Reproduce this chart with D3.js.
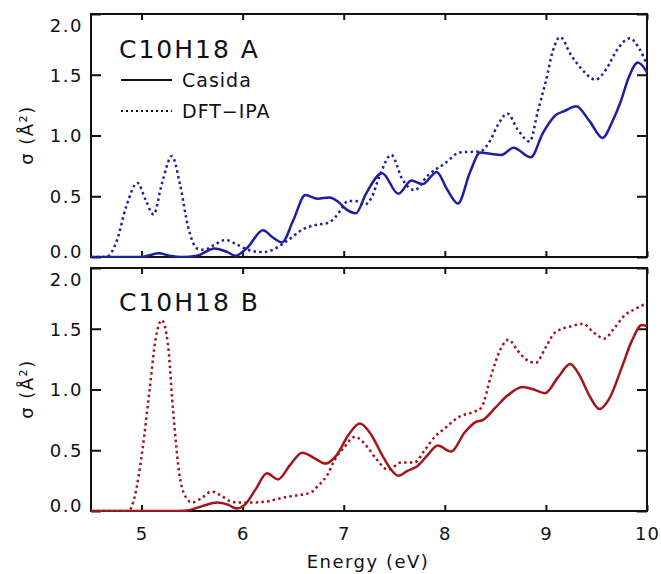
<!DOCTYPE html>
<html>
<head>
<meta charset="utf-8">
<script src="https://cdn.jsdelivr.net/npm/d3@7"></script>
<style>
  body { margin: 0; background: #fff; }
  text { font-family: "DejaVu Sans", sans-serif; fill: #111; }
</style>
</head>
<body>
<svg id="chart" width="661" height="574"></svg>
<script>
// energy (eV), sigma (Å²)
const topCasida = [[4.5,0],[5.0,0],[5.08,0.015],[5.17,0.03],[5.28,0.01],[5.4,0],[5.55,0.01],[5.72,0.07],[5.85,0.04],[5.93,0.01],
  [6.05,0.08],[6.2,0.22],[6.3,0.16],[6.39,0.12],[6.5,0.3],[6.62,0.51],[6.74,0.48],[6.86,0.49],[6.95,0.45],[7.03,0.39],[7.12,0.36],
  [7.22,0.52],[7.38,0.69],[7.54,0.52],[7.67,0.63],[7.78,0.6],[7.92,0.7],[8.02,0.56],[8.13,0.44],[8.25,0.7],[8.35,0.86],[8.45,0.85],
  [8.56,0.84],[8.68,0.9],[8.85,0.82],[8.97,1.02],[9.1,1.17],[9.18,1.2],[9.3,1.24],[9.43,1.12],[9.56,0.98],[9.66,1.12],[9.74,1.28],
  [9.82,1.48],[9.91,1.6],[10.0,1.52]];
const topIPA = [[4.5,0],[4.65,0],[4.75,0.12],[4.85,0.42],[4.96,0.61],[5.04,0.47],[5.12,0.35],[5.2,0.6],[5.3,0.83],[5.38,0.6],
  [5.46,0.25],[5.55,0.07],[5.62,0.06],[5.72,0.1],[5.83,0.14],[5.95,0.1],[6.05,0.06],[6.2,0.04],[6.3,0.06],[6.4,0.11],[6.5,0.17],
  [6.58,0.22],[6.7,0.26],[6.84,0.28],[6.92,0.33],[6.98,0.4],[7.04,0.46],[7.12,0.46],[7.2,0.43],[7.27,0.48],[7.36,0.68],[7.47,0.84],
  [7.58,0.64],[7.7,0.55],[7.83,0.67],[8.0,0.77],[8.15,0.86],[8.35,0.87],[8.45,0.96],[8.52,1.08],[8.62,1.18],[8.72,1.05],[8.84,0.95],
  [8.92,1.2],[9.0,1.45],[9.07,1.7],[9.14,1.81],[9.25,1.66],[9.35,1.55],[9.49,1.46],[9.6,1.55],[9.7,1.7],[9.83,1.8],[9.92,1.72],[10.0,1.58]];
const bottomCasida = [[4.5,0],[5.3,0],[5.45,0.005],[5.6,0.04],[5.75,0.07],[5.86,0.05],[5.94,0.02],[6.02,0.05],[6.13,0.18],[6.24,0.31],
  [6.35,0.26],[6.47,0.38],[6.59,0.48],[6.7,0.44],[6.82,0.39],[6.93,0.46],[7.05,0.63],[7.16,0.72],[7.27,0.63],[7.38,0.46],[7.46,0.35],
  [7.54,0.29],[7.63,0.33],[7.73,0.37],[7.83,0.46],[7.93,0.54],[8.06,0.49],[8.2,0.65],[8.3,0.73],[8.38,0.75],[8.5,0.85],[8.62,0.95],
  [8.77,1.02],[8.88,1.0],[8.99,0.97],[9.12,1.1],[9.24,1.21],[9.33,1.12],[9.43,0.95],[9.53,0.84],[9.63,0.93],[9.75,1.18],[9.85,1.4],
  [9.95,1.53],[10.0,1.52]];
const bottomIPA = [[4.5,0],[4.87,0],[4.93,0.11],[5.01,0.51],[5.08,1.0],[5.14,1.42],[5.2,1.57],[5.26,1.38],[5.31,0.85],[5.38,0.27],
  [5.45,0.1],[5.5,0.07],[5.6,0.11],[5.69,0.16],[5.78,0.13],[5.88,0.08],[5.96,0.07],[6.1,0.07],[6.25,0.08],[6.4,0.11],[6.55,0.13],
  [6.67,0.15],[6.76,0.22],[6.84,0.3],[6.91,0.42],[7.0,0.52],[7.11,0.61],[7.24,0.52],[7.32,0.43],[7.44,0.34],[7.57,0.4],[7.7,0.4],
  [7.8,0.5],[7.9,0.61],[8.0,0.68],[8.13,0.77],[8.3,0.82],[8.36,0.85],[8.46,1.12],[8.55,1.33],[8.63,1.41],[8.72,1.32],[8.8,1.25],
  [8.9,1.22],[9.0,1.35],[9.09,1.47],[9.25,1.52],[9.37,1.54],[9.47,1.47],[9.58,1.42],[9.68,1.51],[9.78,1.61],[9.9,1.67],[10.0,1.71]];

const xTicks = [5, 6, 7, 8, 9, 10];
const yTicks = [0, 0.5, 1.0, 1.5, 2.0];
const panelTitles = ["C10H18 A", "C10H18 B"];
const legendLabels = ["Casida", "DFT\u2212IPA"];

const svg = d3.select("#chart");
const left = 91, right = 647, panelH = 243;
const panelTops = [14, 268];
const colors = ["#1c1f9e", "#a3151a"];

const x = d3.scaleLinear().domain([4.5, 10]).range([0, right - left]);
const y = d3.scaleLinear().domain([0, 2]).range([panelH, 0]);

const line = d3.line()
    .x(d => x(d[0]))
    .y(d => y(d[1]))
    .curve(d3.curveMonotoneX);

const panels = [
    { casida: topCasida, ipa: topIPA },
    { casida: bottomCasida, ipa: bottomIPA }
];

panels.forEach((p, i) => {
    const g = svg.append("g").attr("transform", `translate(${left},${panelTops[i]})`);
    const w = right - left;

    g.append("clipPath").attr("id", "clip" + i)
        .append("rect").attr("x", -1).attr("y", -2).attr("width", w + 2).attr("height", panelH + 3);

    // ticks, all pointing inward
    const yl = g.append("g").call(d3.axisLeft(y).tickValues(yTicks).tickSize(-10).tickPadding(8).tickFormat(d3.format(".1f")));
    yl.selectAll("text")
        .style("font-size", "18px").style("letter-spacing", "1.5px")
        .attr("dy", d => d === 2 ? "0.95em" : d === 0 ? "0.05em" : "0.35em");
    g.append("g").attr("transform", `translate(${w},0)`)
        .call(d3.axisRight(y).tickValues(yTicks).tickSize(-10).tickFormat(""));
    g.append("g").call(d3.axisTop(x).tickValues(xTicks).tickSize(-6).tickFormat(""));
    const xb = g.append("g").attr("transform", `translate(0,${panelH})`)
        .call(d3.axisBottom(x).tickValues(xTicks).tickSize(-6).tickPadding(16).tickFormat(i === 1 ? d3.format("d") : ""));
    xb.selectAll("text").style("font-size", "18px").style("letter-spacing", "1px");

    g.selectAll(".domain").remove();
    g.selectAll(".tick line").attr("stroke", "#111").attr("stroke-width", 2);

    g.append("rect")
        .attr("width", w).attr("height", panelH)
        .attr("fill", "none").attr("stroke", "#111").attr("stroke-width", 2);

    const curves = g.append("g").attr("clip-path", `url(#clip${i})`);
    curves.append("path").datum(p.ipa)
        .attr("d", line).attr("fill", "none")
        .attr("stroke", colors[i]).attr("stroke-width", 2.5)
        .attr("stroke-dasharray", "2.5 3.2");
    curves.append("path").datum(p.casida)
        .attr("d", line).attr("fill", "none")
        .attr("stroke", colors[i]).attr("stroke-width", 2.5);

    g.append("text")
        .attr("x", 28).attr("y", i === 0 ? 44 : 43)
        .style("font-size", "25px").style("letter-spacing", "2px")
        .text(panelTitles[i]);

    svg.append("text")
        .attr("transform", `translate(33,${panelTops[i] + 121}) rotate(-90)`)
        .attr("text-anchor", "middle")
        .style("font-size", "18px").style("letter-spacing", "1.5px")
        .text("\u03c3 (\u00c5\u00b2)");
});

// legend in the upper panel
const leg = svg.append("g");
legendLabels.forEach((label, k) => {
    const ly = 80 + k * 31;
    leg.append("line")
        .attr("x1", 121).attr("x2", 172).attr("y1", ly).attr("y2", ly)
        .attr("stroke", "#111").attr("stroke-width", 2)
        .attr("stroke-dasharray", k === 1 ? "2 3" : null);
    leg.append("text")
        .attr("x", 182).attr("y", ly + 7)
        .style("font-size", "19px").style("letter-spacing", "1px")
        .text(label);
});

svg.append("text")
    .attr("x", (left + right) / 2 - 1).attr("y", 568)
    .attr("text-anchor", "middle")
    .style("font-size", "18px").style("letter-spacing", "1.5px")
    .text("Energy (eV)");
</script>
</body>
</html>
